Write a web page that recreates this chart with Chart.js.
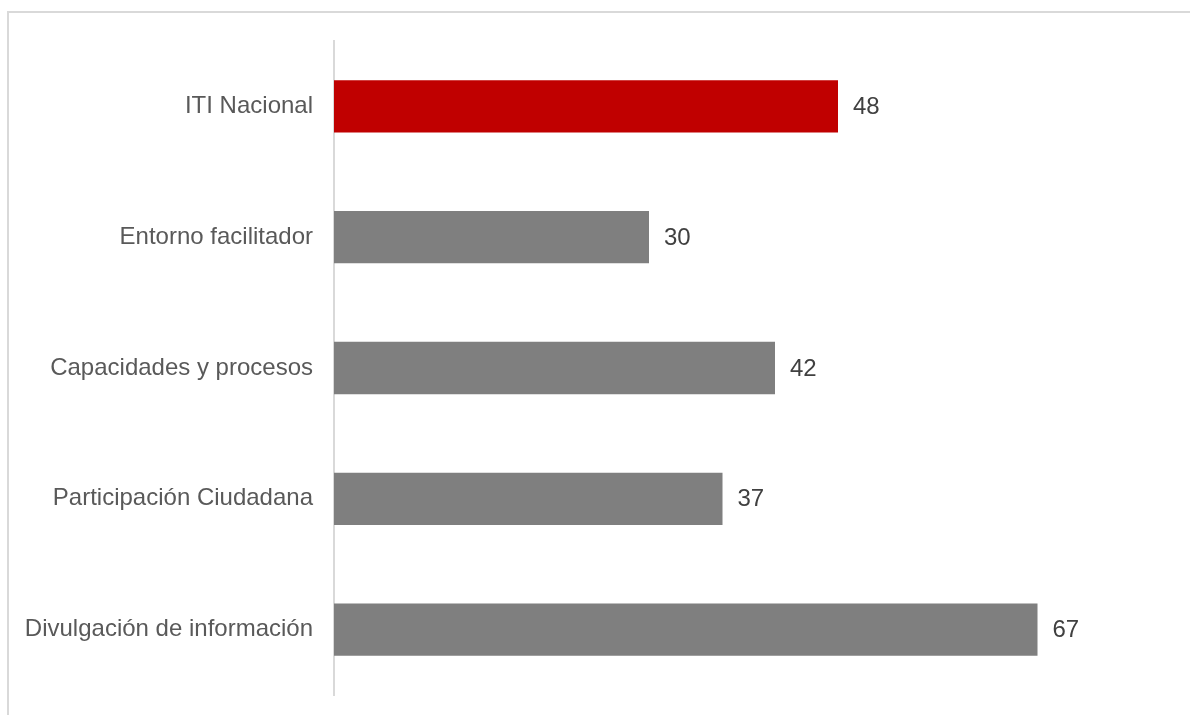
<!DOCTYPE html>
<html>
<head>
<meta charset="utf-8">
<script src="https://cdn.jsdelivr.net/npm/chart.js@4.4.1/dist/chart.umd.min.js"></script>
<style>
  html, body { margin: 0; padding: 0; background: #ffffff; }
  #wrap { position: relative; width: 1190px; height: 715px; overflow: hidden; }
  #frame { position: absolute; left: 7px; top: 11px; width: 1300px; height: 800px;
           border-top: 2px solid #d9d9d9; border-left: 2px solid #d9d9d9; }
  canvas { position: absolute; left: 0; top: 0; }
</style>
</head>
<body>
<div id="wrap">
  <div id="frame"></div>
  <canvas id="c" width="1190" height="715"></canvas>
</div>
<script>
// Index components and their scores
const categories = [
  'ITI Nacional',
  'Entorno facilitador',
  'Capacidades y procesos',
  'Participación Ciudadana',
  'Divulgación de información'
];
const scores = [48, 30, 42, 37, 67];
const barColors = ['#c00000', '#7f7f7f', '#7f7f7f', '#7f7f7f', '#7f7f7f'];

const FONT = '"Liberation Sans", Arial, Helvetica, sans-serif';

// Writes each bar's score just past its end
const valueLabels = {
  id: 'valueLabels',
  afterDatasetsDraw(chart) {
    const ctx = chart.ctx;
    const meta = chart.getDatasetMeta(0);
    ctx.save();
    ctx.font = '24px ' + FONT;
    ctx.fillStyle = '#404040';
    ctx.textAlign = 'left';
    ctx.textBaseline = 'middle';
    meta.data.forEach((bar, i) => {
      ctx.fillText(String(scores[i]), bar.x + 15, bar.y + 1);
    });
    ctx.restore();
  }
};

new Chart(document.getElementById('c'), {
  type: 'bar',
  data: {
    labels: categories,
    datasets: [{
      data: scores,
      backgroundColor: barColors,
      borderWidth: 0,
      categoryPercentage: 1.0,
      barPercentage: 0.4
    }]
  },
  options: {
    indexAxis: 'y',
    responsive: false,
    animation: false,
    layout: { padding: { top: 41, bottom: 20, right: 16, left: 0 } },
    plugins: {
      legend: { display: false },
      tooltip: { enabled: false }
    },
    scales: {
      x: {
        display: false,
        min: 0,
        max: 80
      },
      y: {
        afterFit(scale) {
          scale.width = 334;
          scale.paddingTop = 0;
          scale.paddingBottom = 0;
        },
        grid: { display: false, drawTicks: false },
        border: { display: true, color: '#d9d9d9', width: 2 },
        ticks: {
          color: '#595959',
          padding: 21,
          font: { family: FONT, size: 24 }
        }
      }
    }
  },
  plugins: [valueLabels]
});
</script>
</body>
</html>
